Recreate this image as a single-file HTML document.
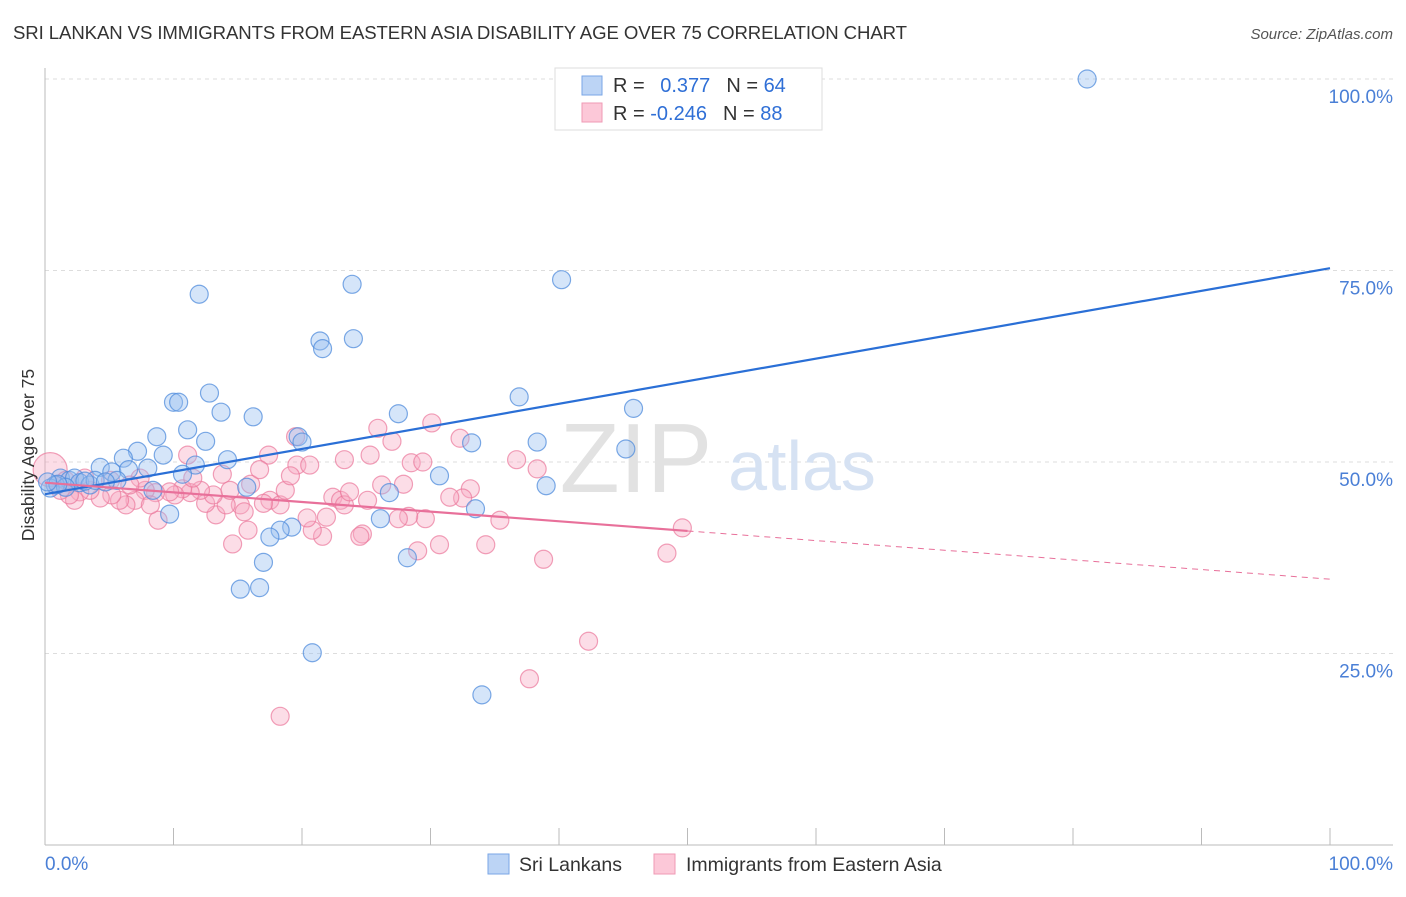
<!DOCTYPE html>
<html><head><meta charset="utf-8"><style>
body{margin:0;background:#fff;font-family:"Liberation Sans",sans-serif}
svg text{font-family:"Liberation Sans",sans-serif}
</style></head><body>
<svg width="1406" height="892" xmlns="http://www.w3.org/2000/svg">
<text x="13" y="39" font-size="18.6" fill="#333" textLength="894">SRI LANKAN VS IMMIGRANTS FROM EASTERN ASIA DISABILITY AGE OVER 75 CORRELATION CHART</text>
<text x="1393" y="39" font-size="15" fill="#555" font-style="italic" text-anchor="end">Source: ZipAtlas.com</text>
<g id="grid"></g>
<text x="636" y="492" font-size="98" fill="#e2e2e2" font-family="Liberation Serif" text-anchor="middle">ZIP</text>
<text x="802" y="490" font-size="70" fill="#d6e2f3" text-anchor="middle">atlas</text>
<g id="pts"></g>
<g id="trend"></g>
<text x="0" y="0" transform="translate(34,455) rotate(-90)" font-size="17.5" fill="#333" text-anchor="middle">Disability Age Over 75</text>
<text x="45" y="870" font-size="19" fill="#4a7fd6">0.0%</text>
<text x="1393" y="870" font-size="19" fill="#4a7fd6" text-anchor="end">100.0%</text>
<g>
<rect x="555" y="68" width="267" height="62" fill="#fff" stroke="#ddd"/>
<rect x="582" y="76" width="20" height="19" fill="#bcd4f5" stroke="#7aa6e6"/>
<rect x="582" y="103" width="20" height="19" fill="#fcc8d8" stroke="#ef9ab5"/>
<text x="613" y="92" font-size="20" fill="#333">R = <tspan fill="#2f6fd6" dx="10">0.377</tspan><tspan dx="16" fill="#333">N = </tspan><tspan fill="#2f6fd6">64</tspan></text>
<text x="613" y="120" font-size="20" fill="#333">R = <tspan fill="#2f6fd6">-0.246</tspan><tspan dx="16" fill="#333">N = </tspan><tspan fill="#2f6fd6">88</tspan></text>
</g>
<g>
<rect x="488" y="854" width="21" height="20" fill="#bcd4f5" stroke="#7aa6e6"/>
<text x="519" y="871" font-size="19.5" fill="#333">Sri Lankans</text>
<rect x="654" y="854" width="21" height="20" fill="#fcc8d8" stroke="#ef9ab5"/>
<text x="686" y="871" font-size="19.5" fill="#333">Immigrants from Eastern Asia</text>
</g>
</svg>
<script>
const yTicks=[25,50,75,100];
const yTickLabels=["25.0%","50.0%","75.0%","100.0%"];
const blueX=[81.1,12.0,23.9,40.2,21.4,21.6,24.0,12.8,10.0,10.4,13.7,16.2,27.5,36.9,45.8,11.1,8.7,12.5,19.7,20.0,33.2,38.3,45.2,7.2,9.2,6.1,14.2,11.7,4.3,8.0,10.7,5.2,6.5,30.7,39.0,26.8,15.7,8.4,5.6,1.2,1.9,2.3,2.7,3.5,0.8,0.4,1.6,3.9,4.7,3.1,9.7,26.1,33.5,19.2,18.3,17.5,17.0,28.2,15.2,16.7,20.8,34.0,1.0,0.2];
const blueY=[100.0,71.9,73.2,73.8,65.8,64.8,66.1,59.0,57.8,57.8,56.5,55.9,56.3,58.5,57.0,54.2,53.3,52.7,53.3,52.6,52.5,52.6,51.7,51.4,50.9,50.5,50.3,49.6,49.3,49.2,48.4,48.7,49.0,48.2,46.9,46.0,46.7,46.3,47.6,47.9,47.6,47.9,47.3,47.0,47.0,46.6,46.7,47.6,47.4,47.5,43.2,42.6,43.9,41.5,41.1,40.2,36.9,37.5,33.4,33.6,25.1,19.6,47.1,47.4];
const pinkX=[18.3,37.7,42.3,48.4,49.6,38.8,34.3,30.7,29.0,24.7,21.6,20.8,14.6,15.8,8.8,13.3,17.5,18.3,15.2,14.1,12.5,13.1,15.5,17.0,12.1,11.3,10.7,10.1,9.7,8.6,7.8,7.0,6.3,5.8,5.2,4.3,3.5,2.7,2.3,1.9,1.2,0.8,0.4,1.6,3.1,5.1,7.4,11.1,11.5,13.8,16.0,18.7,17.4,19.5,19.6,19.1,22.4,23.0,23.3,23.7,25.1,20.4,21.9,26.2,27.9,25.3,25.9,27.0,28.5,29.4,30.1,32.3,33.1,32.5,36.7,38.3,29.6,28.3,27.5,24.5,31.5,35.4,6.6,8.2,14.4,16.7,23.3,20.6];
const pinkY=[16.8,21.7,26.6,38.1,41.4,37.3,39.2,39.2,38.4,40.6,40.3,41.1,39.3,41.1,42.4,43.1,45.0,44.4,44.4,44.4,44.6,45.7,43.5,44.6,46.3,46.0,46.5,45.7,46.1,46.0,46.3,45.0,44.4,45.0,45.7,45.3,46.3,46.1,45.0,45.7,46.3,47.0,49.0,47.6,47.9,47.6,47.9,50.9,47.9,48.4,47.1,46.3,50.9,53.3,49.6,48.2,45.4,45.0,44.4,46.1,45.0,42.7,42.8,47.0,47.1,50.9,54.4,52.7,49.9,50.0,55.1,53.1,46.5,45.3,50.3,49.1,42.6,42.9,42.6,40.3,45.4,42.4,47.0,44.4,46.3,49.0,50.3,49.6];
const blueTrend=[45.8,75.3];
const pinkTrend=[47.3,34.7];
const pinkSolidEnd=50;
const NS="http://www.w3.org/2000/svg";
const X0=45,X1=1330,Y0=845,Y100=79;
const sx=v=>X0+(X1-X0)*v/100;
const sy=v=>Y0-(Y0-Y100)*v/100;
function mk(tag,attrs,parent){const e=document.createElementNS(NS,tag);for(const k in attrs)e.setAttribute(k,attrs[k]);parent.appendChild(e);return e;}
const grid=document.getElementById('grid');
yTicks.forEach((t,i)=>{
  const l=mk('line',{x1:X0,x2:1393,y1:sy(t),y2:sy(t),stroke:'#ddd','stroke-dasharray':'4,4'},grid);
  
  
  const tx=mk('text',{x:1393,y:sy(t)+24,'font-size':19,fill:'#4a7fd6','text-anchor':'end'},grid);
  tx.textContent=yTickLabels[i];
  
  
});
const ax=mk('line',{x1:X0,x2:X0,y1:68,y2:Y0,stroke:'#bbb'},grid);


const bx=mk('line',{x1:X0,x2:1393,y1:Y0,y2:Y0,stroke:'#bbb'},grid);


for(let i=1;i<=10;i++){
  const t=mk('line',{x1:sx(i*10),x2:sx(i*10),y1:Y0,y2:828,stroke:'#bbb'},grid);
  
  
}
const pts=document.getElementById('pts');
pinkX.forEach((v,i)=>{
  const c=mk('circle',{cx:sx(v),cy:sy(pinkY[i]),r:i==42?17:9,fill:'rgba(248,170,195,0.4)',stroke:'rgba(235,120,155,0.7)','stroke-width':1.2},pts);
  
  
});
blueX.forEach((v,i)=>{
  const c=mk('circle',{cx:sx(v),cy:sy(blueY[i]),r:9,fill:'rgba(150,190,240,0.4)',stroke:'rgba(80,140,220,0.75)','stroke-width':1.2},pts);
  
  
});
const tr=document.getElementById('trend');
const b=mk('line',{x1:sx(0),y1:sy(blueTrend[0]),x2:sx(100),y2:sy(blueTrend[1]),stroke:'#2a6fd6','stroke-width':2.2},tr);


const pm=pinkTrend[0]+(pinkTrend[1]-pinkTrend[0])*pinkSolidEnd/100;
const p=mk('line',{x1:sx(0),y1:sy(pinkTrend[0]),x2:sx(pinkSolidEnd),y2:sy(pm),stroke:'#e8709a','stroke-width':2.2},tr);


const pd=mk('line',{x1:sx(pinkSolidEnd),y1:sy(pm),x2:sx(100),y2:sy(pinkTrend[1]),stroke:'#e8709a','stroke-width':1,'stroke-dasharray':'6,5'},tr);


</script>
</body></html>
